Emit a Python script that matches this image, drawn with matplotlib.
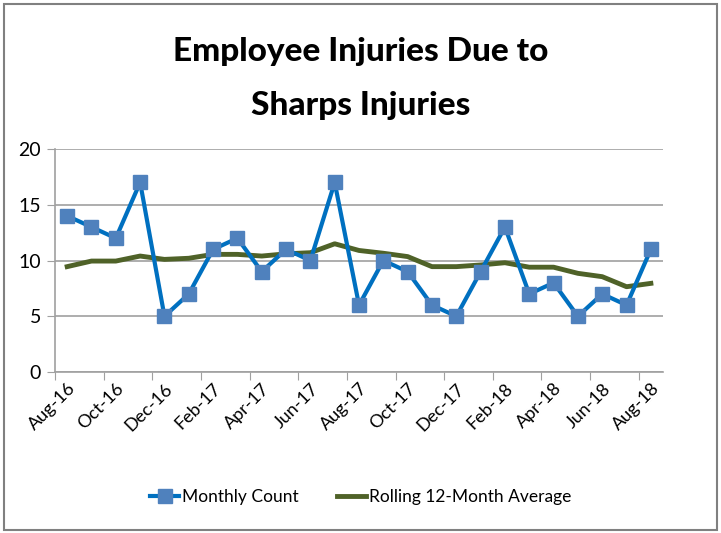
import matplotlib.pyplot as plt
import numpy as np
from matplotlib.patches import Rectangle

plt.rcParams['font.family'] = ['Lato', 'DejaVu Sans']

# data
months = ['Aug-16', 'Sep-16', 'Oct-16', 'Nov-16', 'Dec-16', 'Jan-17', 'Feb-17',
          'Mar-17', 'Apr-17', 'May-17', 'Jun-17', 'Jul-17', 'Aug-17', 'Sep-17',
          'Oct-17', 'Nov-17', 'Dec-17', 'Jan-18', 'Feb-18', 'Mar-18', 'Apr-18',
          'May-18', 'Jun-18', 'Jul-18', 'Aug-18']
monthly_count = [14, 13, 12, 17, 5, 7, 11, 12, 9, 11, 10, 17, 6,
                 10, 9, 6, 5, 9, 13, 7, 8, 5, 7, 6, 11]
rolling_avg = [9.45, 9.95, 9.95, 10.4, 10.1, 10.2, 10.55, 10.55, 10.4, 10.6, 10.7,
               11.5, 10.9, 10.65, 10.35, 9.45, 9.45, 9.6, 9.8, 9.4, 9.4, 8.85,
               8.55, 7.65, 7.95]

fig = plt.figure(figsize=(7.21, 5.33), dpi=100)
ax = fig.add_axes([0.0763, 0.302, 0.8433, 0.4185])

x = np.arange(len(months))
ax.plot(x, monthly_count, color='#0070C0', linewidth=3, marker='s',
        markersize=10, markerfacecolor='#4F81BD', markeredgecolor='#4F81BD',
        label='Monthly Count', zorder=3)
ax.plot(x, rolling_avg, color='#4F6228', linewidth=3.5,
        label='Rolling 12-Month Average', zorder=2)

ax.set_xlim(-0.5, len(months) - 0.5)
ax.set_ylim(0, 20)
ax.set_yticks([0, 5, 10, 15, 20])
ax.yaxis.grid(True, color='#A0A0A0', linewidth=1.2)
ax.set_axisbelow(True)

# ticks sit between categories, labels on every second month
ax.set_xticks(np.arange(-0.5, len(months) - 0.5, 2))
ax.set_xticklabels([])
ax.set_xticks(x[::2], minor=True)
ax.set_xticklabels(months[::2], minor=True, rotation=45, ha='right',
                   rotation_mode='anchor', fontsize=13)
ax.tick_params(axis='x', which='minor', length=0, pad=6)
ax.tick_params(axis='x', which='major', length=6, color='#A0A0A0', direction='out')
ax.tick_params(axis='y', length=6, color='#A0A0A0', labelsize=14, pad=4)

for side in ['top', 'right']:
    ax.spines[side].set_visible(False)
ax.spines['left'].set_color('#A0A0A0')
ax.spines['bottom'].set_color('#A0A0A0')
ax.spines['left'].set_linewidth(1.2)
ax.spines['bottom'].set_linewidth(1.2)

fig.text(0.5, 0.903, 'Employee Injuries Due to', ha='center', va='center',
         fontsize=24, fontweight='black')
fig.text(0.5, 0.803, 'Sharps Injuries', ha='center', va='center',
         fontsize=24, fontweight='black')

fig.legend(loc='center', bbox_to_anchor=(0.5, 0.068), ncol=2, frameon=False,
           fontsize=12.5, handlelength=1.7, columnspacing=2.2, handletextpad=0.15)

fig.patches.append(Rectangle((0.006, 0.006), 0.988, 0.986, transform=fig.transFigure,
                             fill=False, edgecolor='#808080', linewidth=1.5))

fig.savefig('out.png', dpi=100)
